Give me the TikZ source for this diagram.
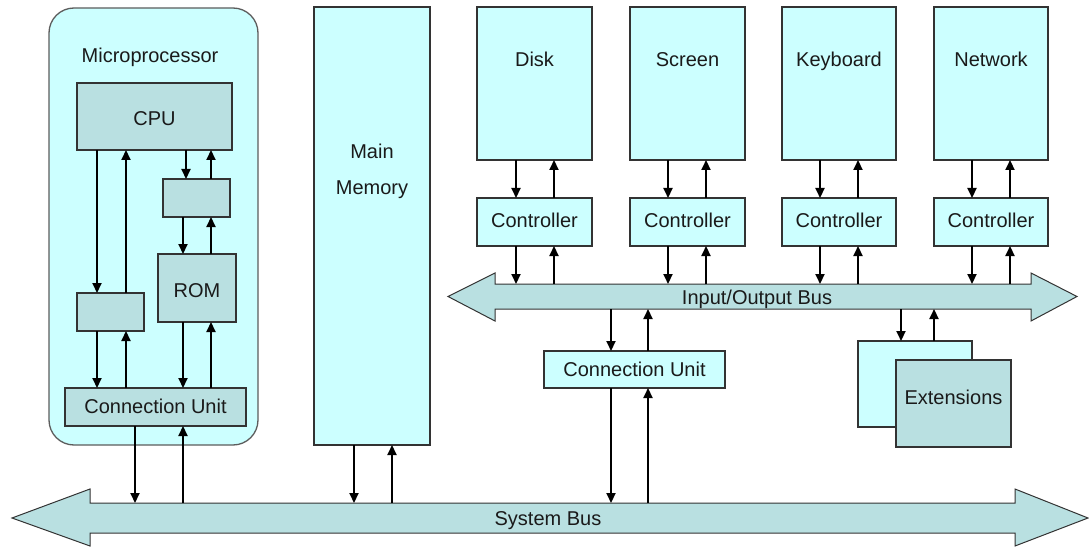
\documentclass[tikz,border=0pt]{standalone}
\usepackage{fontspec}
\setmainfont{Liberation Sans}
\usetikzlibrary{arrows.meta}
\definecolor{pale}{HTML}{CCFFFF}
\definecolor{slate}{HTML}{B9E0E1}
\definecolor{edge}{HTML}{333333}
\definecolor{ink}{HTML}{1A1A1A}

% block: style, name, top-left corner, width, height, text
\newcommand\blk[6]{\node[#1, minimum width=#4pt, minimum height=#5pt] (#2) at (#3) {#6};}
% pair of opposite arrows between an upper and a lower anchor at two x positions
\newcommand\updown[4]{%
  \draw[arr] (#3,0 |- #1) -- (#3,0 |- #2);
  \draw[arr] (#4,0 |- #2) -- (#4,0 |- #1);}

\begin{document}
\begin{tikzpicture}[x=1pt,y=-1pt,
  txt/.style={font=\fontsize{20}{24}\selectfont, text=ink, text height=14.4pt, text depth=0pt},
  box/.style={txt, draw=edge, line width=1.3pt, anchor=north west, inner sep=0pt, outer sep=0pt},
  pbox/.style={box, fill=pale},
  gbox/.style={box, fill=slate},
  lbl/.style={txt, inner sep=0pt},
  arr/.style={line width=2.1pt, draw=black, -{Triangle[length=10pt,width=9pt]}},
  bus/.style={draw=edge, line width=1pt, fill=slate, line join=miter}]

\useasboundingbox (0,0) rectangle (1089,548);

% ---- microprocessor ----
\node[pbox, rounded corners=25pt, draw=edge!80, minimum width=209pt, minimum height=437pt] (micro) at (49,8) {};
\node[lbl] (microlbl) at (150,55) {Microprocessor};
\blk{gbox}{cpu}{77,83}{155}{67}{}
\node[lbl] (cpulbl) at (154.5,118.5) {CPU};
\blk{gbox}{rbuf}{163,179}{67}{38}{}
\blk{gbox}{rom}{158,254}{78}{68}{}
\node[lbl] (romlbl) at (197,290) {ROM};
\blk{gbox}{lbuf}{77,293}{67}{38}{}
\blk{gbox}{cuA}{65,388}{181}{38}{}
\node[lbl] (cuAlbl) at (155.5,406) {Connection Unit};

% ---- main memory ----
\blk{pbox}{mem}{314,7}{116}{438}{}
\node[lbl] (memlblA) at (372,151) {Main};
\node[lbl] (memlblB) at (372,187) {Memory};

% ---- devices and controllers ----
\blk{pbox}{disk}{477,7}{115}{153}{}
\blk{pbox}{screen}{630,7}{115}{153}{}
\blk{pbox}{keyb}{782,7}{114}{153}{}
\blk{pbox}{net}{934,7}{114}{153}{}
\node[lbl] (disklbl) at (534.5,59) {Disk};
\node[lbl] (screenlbl) at (687.5,59) {Screen};
\node[lbl] (keyblbl) at (839,59) {Keyboard};
\node[lbl] (netlbl) at (991,59) {Network};
\blk{pbox}{ctlA}{477,198}{115}{48}{}
\blk{pbox}{ctlB}{630,198}{115}{48}{}
\blk{pbox}{ctlC}{782,198}{114}{48}{}
\blk{pbox}{ctlD}{934,198}{114}{48}{}
\foreach \c/\x in {ctlA/534.5, ctlB/687.5, ctlC/839, ctlD/991}
  \node[lbl] (\c lbl) at (\x,220) {Controller};

% ---- lower right units ----
\blk{pbox}{cuB}{544,351}{181}{37}{}
\node[lbl] (cuBlbl) at (634.5,369) {Connection Unit};
\blk{pbox}{extback}{858,341}{114}{86}{}
\blk{gbox}{ext}{896,360}{115}{87}{}
\node[lbl] (extlbl) at (953.5,397) {Extensions};

% ---- buses ----
\draw[bus] (448,296.5) -- (495,273) -- (495,284) -- (1031,284) -- (1031,273) -- (1077,296.5)
  -- (1031,321) -- (1031,309) -- (495,309) -- (495,321) -- cycle;
\node[lbl] (iolbl) at (757,297) {Input/Output Bus};
\coordinate (iot) at (0,284);
\coordinate (iob) at (0,309);

\draw[bus] (12,518) -- (90,489) -- (90,503) -- (1015,503) -- (1015,489) -- (1088,518)
  -- (1015,546) -- (1015,533) -- (90,533) -- (90,546) -- cycle;
\node[lbl] (syslbl) at (548,518) {System Bus};
\coordinate (sbt) at (0,503);

% ---- connectors ----
\updown{cpu.south}{lbuf.north}{97}{126}
\updown{cpu.south}{rbuf.north}{186}{211}
\updown{rbuf.south}{rom.north}{183}{211}
\updown{lbuf.south}{cuA.north}{97}{126}
\updown{rom.south}{cuA.north}{183}{211}
\updown{cuA.south}{sbt}{135}{183}
\updown{mem.south}{sbt}{354}{392}

\updown{disk.south}{ctlA.north}{516}{554}
\updown{screen.south}{ctlB.north}{668}{706}
\updown{keyb.south}{ctlC.north}{820}{858}
\updown{net.south}{ctlD.north}{972}{1010}
\updown{ctlA.south}{iot}{516}{554}
\updown{ctlB.south}{iot}{668}{706}
\updown{ctlC.south}{iot}{820}{858}
\updown{ctlD.south}{iot}{972}{1010}

\updown{iob}{cuB.north}{611}{648}
\updown{cuB.south}{sbt}{611}{648}
\updown{iob}{extback.north}{901}{934}
\end{tikzpicture}
\end{document}
